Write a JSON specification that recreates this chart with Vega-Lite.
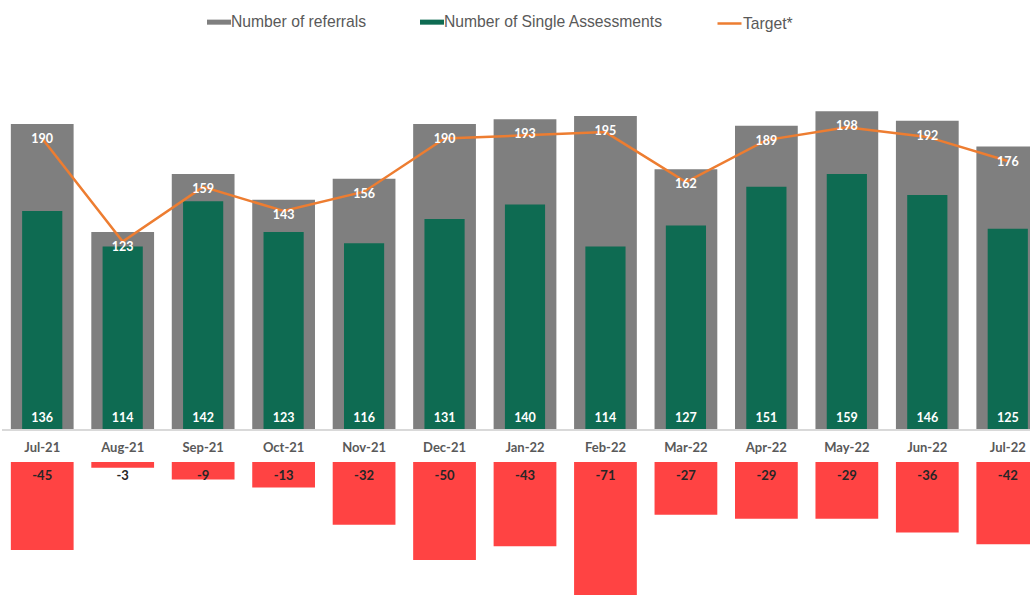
{
  "$schema": "https://vega.github.io/schema/vega-lite/v6.json",
  "width": 1046,
  "height": 595,
  "autosize": {"type": "none"},
  "padding": {"left": 2, "top": 0, "right": 0, "bottom": 0},
  "background": "white",
  "config": {
    "view": {"stroke": null},
    "text": {"font": "Lato", "fontWeight": "bold"}
  },
  "data": {
    "values": [
      {"month": "Jul-21", "referrals": 190, "assessments": 136, "target": 181, "diff": -45},
      {"month": "Aug-21", "referrals": 123, "assessments": 114, "target": 117, "diff": -3},
      {"month": "Sep-21", "referrals": 159, "assessments": 142, "target": 151, "diff": -9},
      {"month": "Oct-21", "referrals": 143, "assessments": 123, "target": 136, "diff": -13},
      {"month": "Nov-21", "referrals": 156, "assessments": 116, "target": 148, "diff": -32},
      {"month": "Dec-21", "referrals": 190, "assessments": 131, "target": 181, "diff": -50},
      {"month": "Jan-22", "referrals": 193, "assessments": 140, "target": 183, "diff": -43},
      {"month": "Feb-22", "referrals": 195, "assessments": 114, "target": 185, "diff": -71},
      {"month": "Mar-22", "referrals": 162, "assessments": 127, "target": 154, "diff": -27},
      {"month": "Apr-22", "referrals": 189, "assessments": 151, "target": 180, "diff": -29},
      {"month": "May-22", "referrals": 198, "assessments": 159, "target": 188, "diff": -29},
      {"month": "Jun-22", "referrals": 192, "assessments": 146, "target": 182, "diff": -36},
      {"month": "Jul-22", "referrals": 176, "assessments": 125, "target": 167, "diff": -42}
    ]
  },
  "layer": [
    {
      "layer": [
        {
          "encoding": {
            "x": {
              "field": "month", "type": "nominal", "sort": null,
              "scale": {"paddingInner": 0.22, "paddingOuter": 0.11},
              "axis": {
                "title": null, "orient": "bottom", "offset": -148,
                "labelBaseline": "middle", "labelPadding": 0, "ticks": false, "tickSize": 0,
                "domain": false, "grid": false, "labelAngle": 0,
                "labelFont": "Lato", "labelFontWeight": "bold", "labelFontSize": 13,
                "labelColor": "#595959"
              }
            }
          },
          "layer": [
            {
              "mark": {"type": "bar"},
              "encoding": {
                "y": {"field": "referrals", "type": "quantitative", "scale": {"domain": [-102.4, 267.0]}, "axis": null},
                "y2": {"datum": 0},
                "color": {
                  "datum": "Number of referrals",
                  "scale": {"domain": ["Number of referrals", "Number of Single Assessments"], "range": ["#7F7F7F", "#0E6B52"]},
                  "legend": {
                    "title": null, "orient": "none", "legendX": 205, "legendY": 10,
                    "direction": "horizontal", "padding": 0,
                    "symbolType": "M-1,-0.21H1V0.21H-1Z", "symbolSize": 576, "symbolStrokeWidth": 0,
                    "labelOffset": 0, "columnPadding": 53, "labelLimit": 0,
                    "labelFont": "Liberation Sans", "labelFontSize": 15.7, "labelColor": "#595959"
                  }
                }
              }
            },
            {
              "mark": {"type": "bar", "width": {"band": 0.64}},
              "encoding": {
                "y": {"field": "assessments", "type": "quantitative", "scale": {"domain": [-102.4, 267.0]}, "axis": null},
                "y2": {"datum": 0},
                "color": {
                  "datum": "Number of Single Assessments",
                  "scale": {"domain": ["Number of referrals", "Number of Single Assessments"], "range": ["#7F7F7F", "#0E6B52"]}
                }
              }
            },
            {
              "mark": {"type": "line", "strokeWidth": 2.5},
              "encoding": {
                "y": {"field": "target", "type": "quantitative", "scale": {"domain": [-102.4, 267.0]}, "axis": null},
                "stroke": {
                  "datum": "Target*",
                  "scale": {"domain": ["Target*"], "range": ["#ED7D31"]},
                  "legend": {
                    "title": null, "orient": "none", "legendX": 714, "legendY": 10,
                    "direction": "horizontal", "padding": 0,
                    "symbolType": "stroke", "symbolSize": 576, "symbolStrokeWidth": 2.5,
                    "labelOffset": 0, "labelLimit": 0,
                    "labelFont": "Liberation Sans", "labelFontSize": 15.7, "labelColor": "#595959"
                  }
                }
              }
            },
            {
              "mark": {"type": "text", "color": "white", "fontSize": 12.5, "baseline": "middle", "dy": 15},
              "encoding": {
                "y": {"field": "referrals", "type": "quantitative", "scale": {"domain": [-102.4, 267.0]}, "axis": null},
                "text": {"field": "referrals", "type": "nominal"}
              }
            },
            {
              "mark": {"type": "text", "color": "white", "fontSize": 12.5, "baseline": "middle", "dy": -12},
              "encoding": {
                "y": {"datum": 0, "type": "quantitative", "scale": {"domain": [-102.4, 267.0]}, "axis": null},
                "text": {"field": "assessments", "type": "nominal"}
              }
            }
          ]
        },
        {
          "mark": {"type": "rule", "color": "#D9D9D9", "strokeWidth": 1.5},
          "encoding": {
            "y": {"datum": 0, "type": "quantitative", "scale": {"domain": [-102.4, 267.0]}, "axis": null}
          }
        }
      ]
    },
    {
      "encoding": {
        "x": {
          "field": "month", "type": "nominal", "sort": null,
          "scale": {"paddingInner": 0.22, "paddingOuter": 0.11}
        }
      },
      "layer": [
        {
          "mark": {"type": "bar", "color": "#FF4343"},
          "encoding": {
            "y": {"field": "diff", "type": "quantitative", "scale": {"domain": [-67.9, 235.7]}, "axis": null},
            "y2": {"datum": 0}
          }
        },
        {
          "mark": {"type": "text", "color": "#262626", "fontSize": 13, "baseline": "middle", "dy": 14},
          "encoding": {
            "y": {"datum": 0, "type": "quantitative", "scale": {"domain": [-67.9, 235.7]}, "axis": null},
            "text": {"field": "diff", "type": "nominal"}
          }
        }
      ]
    }
  ],
  "resolve": {"scale": {"y": "independent"}}
}
